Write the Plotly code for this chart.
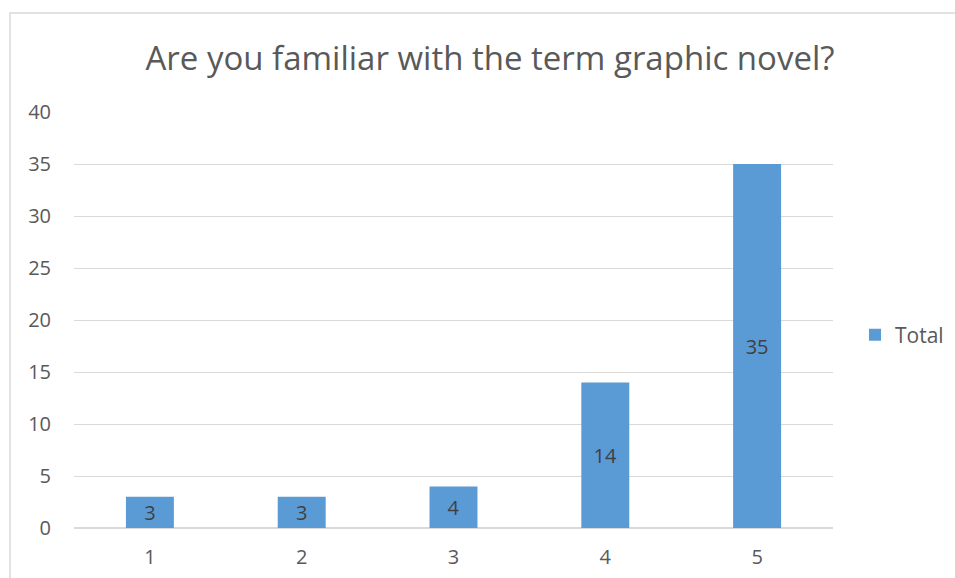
import plotly.graph_objects as go

categories = ["1", "2", "3", "4", "5"]
totals = [3, 3, 4, 14, 35]
y_ticks = [0, 5, 10, 15, 20, 25, 30, 35, 40]
title_text = "Are you familiar with the term graphic novel?"
series_name = "Total"

W, H = 955, 578
L, R, T, B = 74, 122, 112, 50
pw, ph = W - L - R, H - T - B

fig = go.Figure()
fig.add_trace(go.Bar(
    x=categories, y=totals, name=series_name,
    marker=dict(color="#5B9BD5", line=dict(width=0)),
    text=[str(v) for v in totals],
    textposition="inside", insidetextanchor="middle",
    constraintext="none", textangle=0,
    textfont=dict(family="Open Sans", size=20, color="#404040"),
    showlegend=True,
))

fig.update_layout(
    width=W, height=H,
    margin=dict(l=L, r=R, t=T, b=B, autoexpand=False),
    paper_bgcolor="white", plot_bgcolor="white",
    bargap=0.684,
    title=dict(text=title_text, x=490 / W, xanchor="center",
               y=1 - 58 / H, yanchor="middle",
               font=dict(family="Open Sans", size=33, color="#595959")),
    font=dict(family="Open Sans", color="#595959", size=20),
    legend=dict(x=(855 - L) / pw, xanchor="left", y=(H - B - 335) / ph, yanchor="middle",
                font=dict(family="Open Sans", size=21, color="#595959"),
                itemwidth=30, bgcolor="rgba(0,0,0,0)"),
    xaxis=dict(type="category", showgrid=False, showline=True, linecolor="#d9d9d9",
               linewidth=1, ticks="", ticklabelstandoff=11,
               tickfont=dict(family="Open Sans", size=20, color="#595959")),
    yaxis=dict(range=[0, 40], tickvals=y_ticks, showgrid=True, gridcolor="#d9d9d9",
               gridwidth=1, zeroline=True, zerolinecolor="#d9d9d9", showline=False,
               ticks="", ticklabelstandoff=22,
               tickfont=dict(family="Open Sans", size=20, color="#595959")),
    shapes=[dict(type="rect", xref="paper", yref="paper",
                 x0=(10 - L) / pw, x1=1.5, y0=-0.5, y1=(H - B - 13) / ph,
                 line=dict(color="#d9d9d9", width=1.5), fillcolor="rgba(0,0,0,0)", layer="below")],
)

fig.write_html("out.html")
